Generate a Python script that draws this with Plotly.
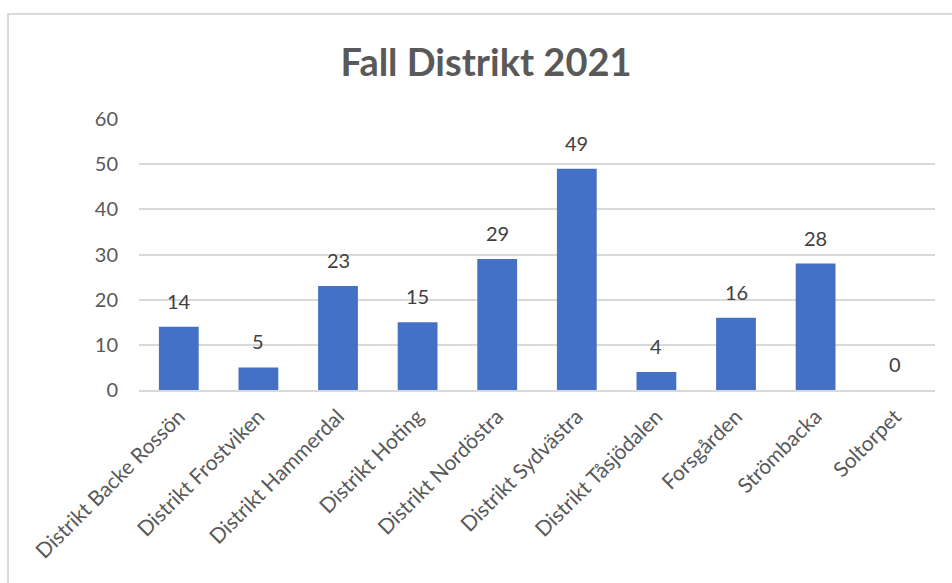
import plotly.graph_objects as go

# Antal fall per distrikt 2021
categories = [
    "Distrikt Backe Rossön",
    "Distrikt Frostviken",
    "Distrikt Hammerdal",
    "Distrikt Hoting",
    "Distrikt Nordöstra",
    "Distrikt Sydvästra",
    "Distrikt Tåsjödalen",
    "Forsgården",
    "Strömbacka",
    "Soltorpet",
]
cases = [14, 5, 23, 15, 29, 49, 4, 16, 28, 0]
y_ticks = [0, 10, 20, 30, 40, 50, 60]

FONT = "Lato"
GRID = "#D9D9D9"
TEXT = "#595959"

fig = go.Figure(
    go.Bar(
        x=categories,
        y=cases,
        marker=dict(color="#4470C5", line=dict(width=0)),
        hoverinfo="x+y",
    )
)

# Value labels above each bar
for cat, val in zip(categories, cases):
    fig.add_annotation(
        x=cat, y=val, text=str(val), showarrow=False, yshift=26,
        font=dict(family=FONT, size=20, color="#404040"),
    )

# Outer frame of the chart area
fig.add_shape(
    type="rect", xref="paper", yref="paper",
    x0=-0.1646, x1=1.05, y0=-0.8, y1=1.3875,
    line=dict(color=GRID, width=2), fillcolor="rgba(0,0,0,0)", layer="below",
)

fig.update_layout(
    width=952, height=583,
    margin=dict(l=139, r=17, t=119, b=193),
    paper_bgcolor="white", plot_bgcolor="white",
    bargap=0.5,
    showlegend=False,
    title=dict(
        text="<b>Fall Distrikt 2021</b>",
        x=0.5105, xref="container", xanchor="center",
        y=1 - 63 / 583, yref="container", yanchor="middle",
        font=dict(family=FONT, size=38, color=TEXT),
    ),
    xaxis=dict(
        tickangle=-45,
        tickfont=dict(family=FONT, size=21, color=TEXT),
        showgrid=False, showline=True, linecolor=GRID, linewidth=2,
        ticks="", ticklabelstandoff=4,
    ),
    yaxis=dict(
        range=[0, 60], tickvals=y_ticks,
        tickfont=dict(family=FONT, size=20, color=TEXT),
        showgrid=True, gridcolor=GRID, gridwidth=2,
        zeroline=False, showline=False, ticks="",
        ticklabelstandoff=20,
    ),
)

fig.write_html("out.html")
